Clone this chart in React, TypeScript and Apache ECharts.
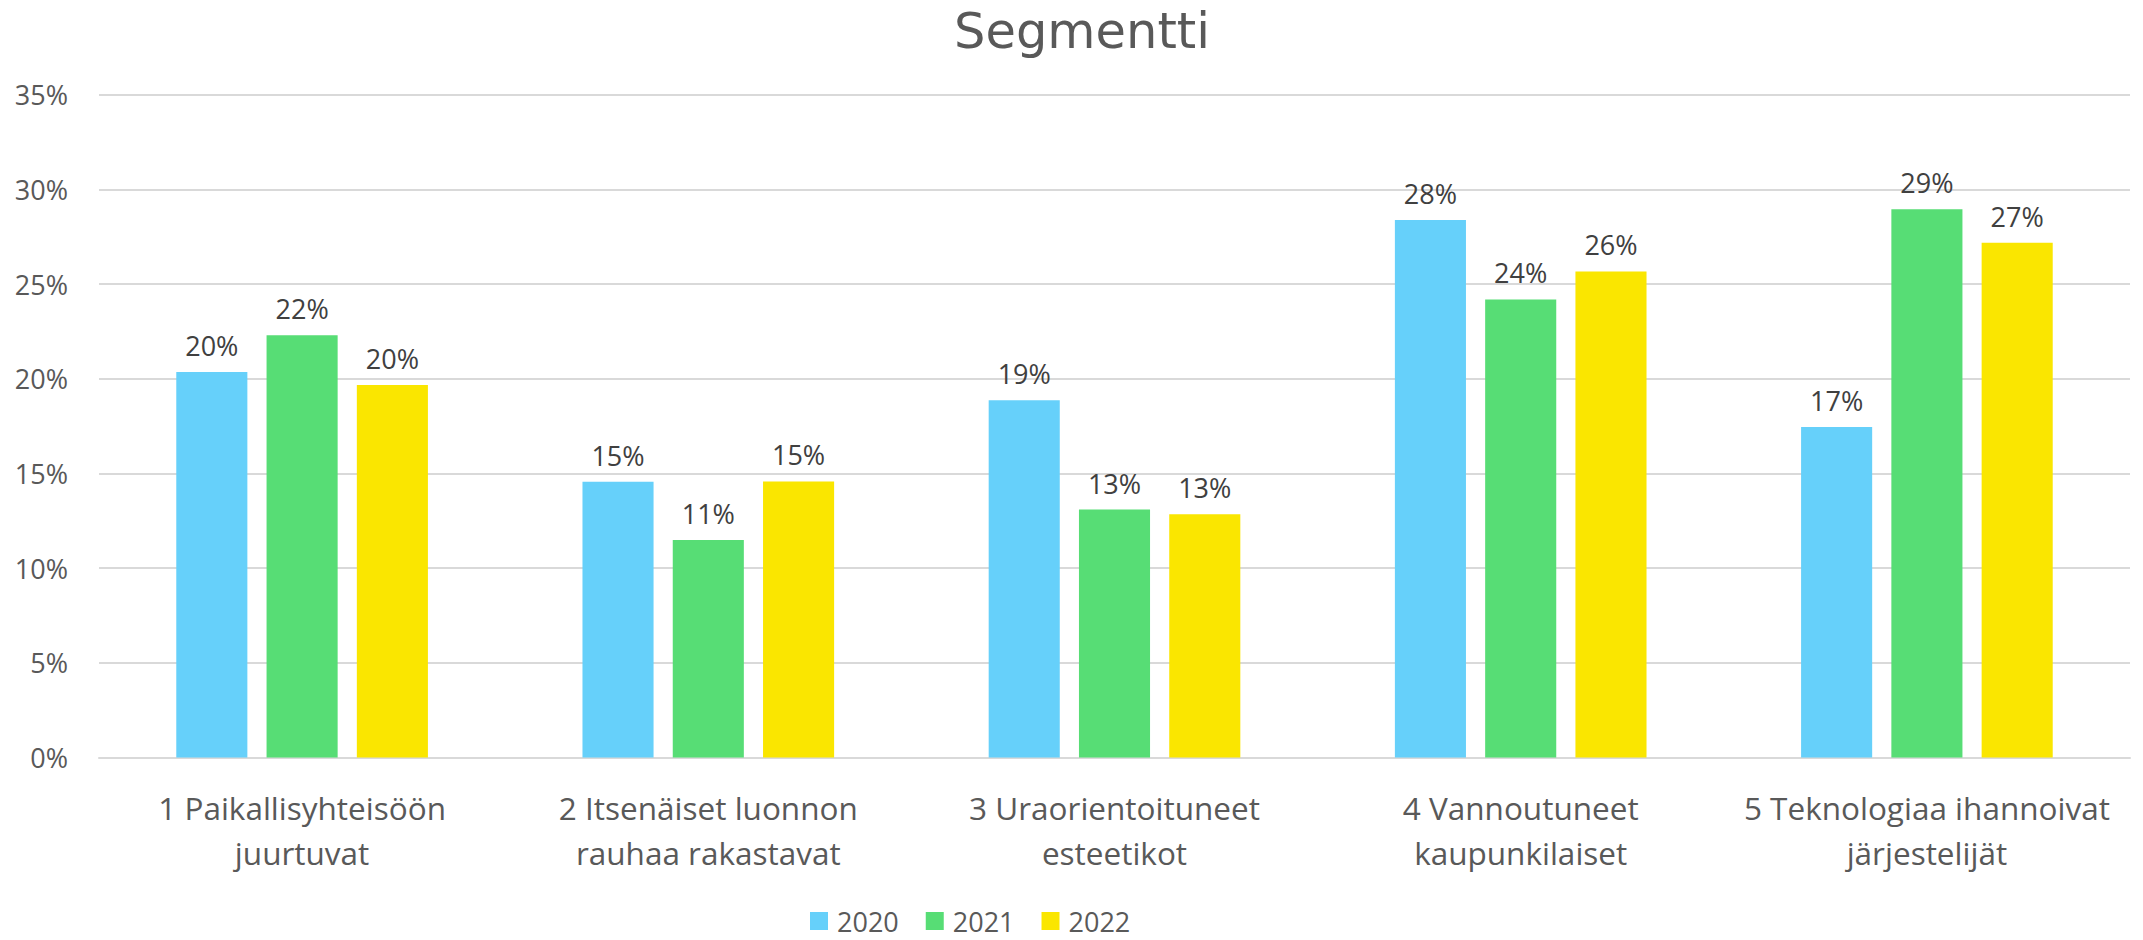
import React, { useEffect, useRef } from "react";
import * as echarts from "echarts";

const categories = [
  "1 Paikallisyhteisöön\njuurtuvat",
  "2 Itsenäiset luonnon\nrauhaa rakastavat",
  "3 Uraorientoituneet\nesteetikot",
  "4 Vannoutuneet\nkaupunkilaiset",
  "5 Teknologiaa ihannoivat\njärjestelijät",
];
const seriesNames = ["2020", "2021", "2022"];
const values2020 = [0.2036, 0.1456, 0.1887, 0.2838, 0.1745];
const values2021 = [0.223, 0.1148, 0.1309, 0.2419, 0.2895];
const values2022 = [0.1967, 0.1458, 0.1284, 0.2567, 0.2718];
const colors = ["#66D0FA", "#57DD75", "#FAE600"];
const yTicksMax = 0.35;
const yInterval = 0.05;

const FONT = "'Open Sans', 'Noto Sans', sans-serif";
const TITLE_FONT = "'DejaVu Sans', 'Open Sans', sans-serif";

export default function App() {
  const ref = useRef<HTMLDivElement>(null);
  useEffect(() => {
    document.body.style.margin = "0";
    if (!ref.current) return;
    const chart = echarts.init(ref.current, undefined, { renderer: "svg" });
    const allValues = [values2020, values2021, values2022];
    chart.setOption({
      animation: false,
      textStyle: { fontFamily: FONT },
      title: {
        text: "Segmentti",
        left: 1082,
        textAlign: "center",
        top: 0,
        padding: 0,
        textStyle: {
          fontFamily: TITLE_FONT,
          fontSize: 49.5,
          lineHeight: 62,
          fontWeight: "normal",
          color: "#595959",
        },
      },
      legend: {
        data: seriesNames,
        left: 805,
        top: 902,
        icon: "rect",
        itemWidth: 18,
        itemHeight: 18,
        itemGap: 27,
        textStyle: {
          fontFamily: FONT,
          fontSize: 27,
          lineHeight: 28,
          color: "#595959",
          padding: [0, 0, 0, 4],
        },
      },
      grid: {
        left: 99,
        right: 13,
        top: 94.7,
        bottom: 182.5,
        containLabel: false,
      },
      xAxis: {
        type: "category",
        data: categories,
        axisLine: { lineStyle: { color: "#D9D9D9", width: 2 } },
        axisTick: { show: false },
        axisLabel: {
          fontFamily: FONT,
          fontSize: 31.5,
          lineHeight: 45,
          color: "#595959",
          margin: 27,
          interval: 0,
        },
      },
      yAxis: {
        type: "value",
        min: 0,
        max: yTicksMax,
        interval: yInterval,
        axisLine: { show: false },
        axisTick: { show: false },
        splitLine: { lineStyle: { color: "#D9D9D9", width: 2 } },
        axisLabel: {
          fontFamily: FONT,
          fontSize: 27,
          color: "#595959",
          margin: 31,
          formatter: (v: number) => `${Math.round(v * 100)}%`,
        },
      },
      series: seriesNames.map((name, i) => ({
        name,
        type: "bar",
        data: allValues[i],
        barWidth: "17.5%",
        barGap: "27%",
        itemStyle: { color: colors[i] },
        label: {
          show: true,
          position: "top",
          distance: 13,
          fontFamily: FONT,
          fontSize: 27,
          color: "#404040",
          formatter: (p: any) => `${Math.round(p.value * 100)}%`,
        },
      })),
    });
    return () => chart.dispose();
  }, []);
  return (
    <div
      ref={ref}
      style={{ position: "absolute", left: 0, top: 0, width: 2143, height: 940 }}
    />
  );
}
